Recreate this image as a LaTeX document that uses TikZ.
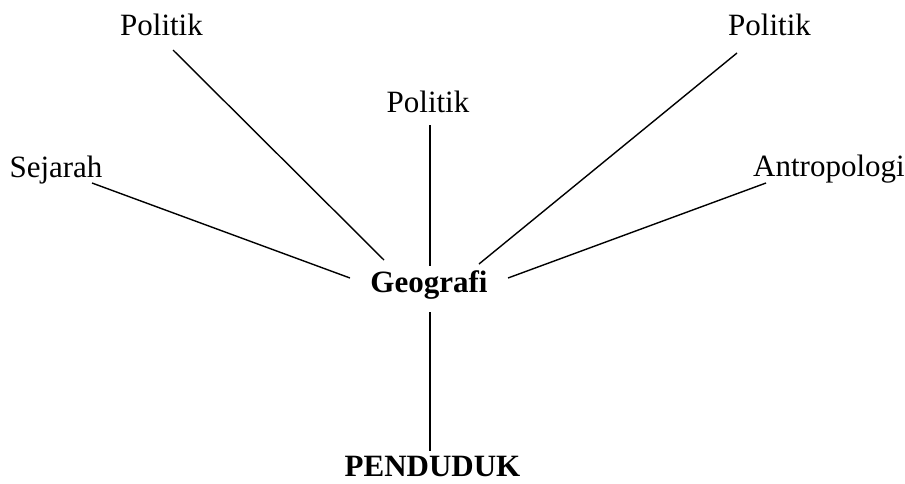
\documentclass[tikz,border=0pt]{standalone}
\usepackage{fontspec}
\setmainfont{Liberation Serif}
\begin{document}
\begin{tikzpicture}[x=1pt,y=-1pt,
  lbl/.style={anchor=base,inner sep=0pt,font=\fontsize{31}{37}\selectfont},
  blbl/.style={lbl,font=\fontsize{31}{37}\selectfont\bfseries},
  conn/.style={line width=1.4pt}]
\useasboundingbox (0,0) rectangle (905,483);
\node[lbl] (pl) at (161.5,35) {Politik};
\node[lbl] (sj) at (56,177) {Sejarah};
\node[lbl] (pc) at (428,112) {Politik};
\node[lbl] (pr) at (769.5,35) {Politik};
\node[lbl] (an) at (829,176) {Antropologi};
\node[blbl] (geo) at (429,292) {Geografi};
\node[blbl] (pen) at (432.5,476) {PENDUDUK};
% connector end points
\coordinate (sjE) at (92,183);
\coordinate (plE) at (173,50);
\coordinate (pcE) at (430,125);
\coordinate (prE) at (737,53);
\coordinate (anE) at (766,183);
\coordinate (gSj) at (350,278);
\coordinate (gPl) at (384,260);
\coordinate (gPc) at (430,266);
\coordinate (gPr) at (479,264);
\coordinate (gAn) at (508,278);
\coordinate (gDn) at (430,312);
\coordinate (penE) at (430,451);
\draw[conn] (sjE) -- (gSj);
\draw[conn] (plE) -- (gPl);
\draw[conn] (pcE) -- (gPc);
\draw[conn] (prE) -- (gPr);
\draw[conn] (anE) -- (gAn);
\draw[conn] (gDn) -- (penE);
\end{tikzpicture}
\end{document}
